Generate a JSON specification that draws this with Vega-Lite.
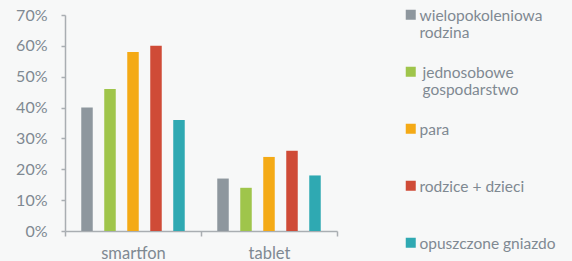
{
  "$schema": "https://vega.github.io/schema/vega-lite/v6.json",
  "width": 272,
  "height": 216,
  "autosize": {"type": "none"},
  "padding": {"left": 65, "top": 15, "right": 235, "bottom": 30},
  "background": "#f7f8f8",
  "config": {"view": {"stroke": null}, "font": "Lato"},
  "data": {
    "values": [
      {"device": "smartfon", "group": "wielopokoleniowa rodzina", "value": 0.40},
      {"device": "smartfon", "group": "jednosobowe gospodarstwo", "value": 0.46},
      {"device": "smartfon", "group": "para", "value": 0.58},
      {"device": "smartfon", "group": "rodzice + dzieci", "value": 0.60},
      {"device": "smartfon", "group": "opuszczone gniazdo", "value": 0.36},
      {"device": "tablet", "group": "wielopokoleniowa rodzina", "value": 0.17},
      {"device": "tablet", "group": "jednosobowe gospodarstwo", "value": 0.14},
      {"device": "tablet", "group": "para", "value": 0.24},
      {"device": "tablet", "group": "rodzice + dzieci", "value": 0.26},
      {"device": "tablet", "group": "opuszczone gniazdo", "value": 0.18}
    ]
  },
  "mark": {"type": "bar"},
  "encoding": {
    "x": {
      "field": "device", "type": "nominal", "sort": ["smartfon", "tablet"],
      "scale": {"paddingInner": 0, "paddingOuter": 0},
      "axis": {"title": null, "labelAngle": 0, "tickBand": "extent", "tickSize": 5, "labelPadding": 9,
        "domainColor": "#a9aeb2", "tickColor": "#a9aeb2", "domainWidth": 1.5, "tickWidth": 1.5,
        "labelColor": "#7f8992", "labelFontSize": 16.5}
    },
    "xOffset": {
      "field": "group", "type": "nominal",
      "sort": ["wielopokoleniowa rodzina", "jednosobowe gospodarstwo", "para", "rodzice + dzieci", "opuszczone gniazdo"],
      "scale": {"paddingInner": 0.5, "paddingOuter": 0.707}
    },
    "y": {
      "field": "value", "type": "quantitative",
      "scale": {"domain": [0, 0.7]},
      "axis": {"title": null, "values": [0, 0.1, 0.2, 0.3, 0.4, 0.5, 0.6, 0.7], "format": ".0%", "grid": false,
        "tickSize": 4, "labelPadding": 14, "domainColor": "#a9aeb2", "tickColor": "#a9aeb2", "domainWidth": 1.5, "tickWidth": 1.5,
        "labelColor": "#7f8992", "labelFontSize": 16}
    },
    "color": {
      "field": "group", "type": "nominal",
      "scale": {
        "domain": ["wielopokoleniowa rodzina", "jednosobowe gospodarstwo", "para", "rodzice + dzieci", "opuszczone gniazdo"],
        "range": ["#8e979e", "#9fc54b", "#f4aa16", "#cf4b37", "#2fa9b2"]
      },
      "legend": {
        "title": null, "orient": "none", "legendX": 338, "legendY": -8, "padding": 0,
        "symbolType": "square", "symbolSize": 100, "symbolStrokeWidth": 0,
        "labelFontSize": 15.5, "labelColor": "#7f8992", "labelLineHeight": 21, "labelOffset": 1, "labelLimit": 300,
        "labelBaseline": "top", "rowPadding": 22,
        "encode": {"labels": {"update": {"dy": {"value": -6}, "dx": {"signal": "datum.value == 'jednosobowe gospodarstwo' ? 3 : 0"}}}},
        "labelExpr": "datum.label == 'wielopokoleniowa rodzina' ? ['wielopokoleniowa', 'rodzina'] : datum.label == 'jednosobowe gospodarstwo' ? ['jednosobowe', 'gospodarstwo'] : [datum.label, '']"
      }
    }
  }
}
